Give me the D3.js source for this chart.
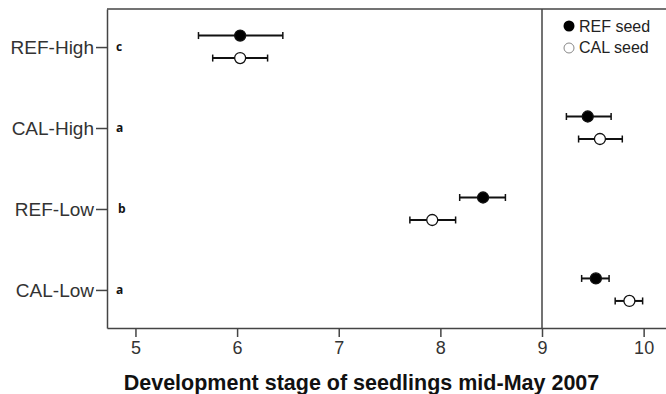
<!DOCTYPE html>
<html><head><meta charset="utf-8">
<script src="https://cdn.jsdelivr.net/npm/d3@7"></script>
<style>body{margin:0;background:#fff}svg{display:block}</style>
</head><body>
<script>
const categories = ["REF-High","CAL-High","REF-Low","CAL-Low"];
const letters = ["c","a","b","a"];
const refMean = [6.03, 9.45, 8.42, 9.53];
const refLo   = [5.62, 9.24, 8.19, 9.39];
const refHi   = [6.45, 9.68, 8.64, 9.66];
const calMean = [6.03, 9.57, 7.92, 9.86];
const calLo   = [5.76, 9.36, 7.70, 9.72];
const calHi   = [6.30, 9.79, 8.15, 9.99];
const xTicks = [5,6,7,8,9,10];
const refLine = 9;
const seriesNames = ["REF seed","CAL seed"];

const W=666,H=394;
const L=107,T=9,R=666,B=328;
const svg=d3.select("body").append("svg").attr("width",W).attr("height",H);
const x=d3.scaleLinear().domain([4.72,10.22]).range([L,R]);
const y=d3.scalePoint().domain(categories).range([T,B]).padding(0.47);
const axisCol="#444";

// frame top
svg.append("line").attr("x1",L).attr("x2",R).attr("y1",T).attr("y2",T).attr("stroke",axisCol).attr("stroke-width",1.5);

// x axis
const xa=svg.append("g").attr("transform",`translate(0,${B})`)
  .call(d3.axisBottom(x).tickValues(xTicks).tickSizeInner(9).tickSizeOuter(0).tickPadding(4).tickFormat(d3.format("d")));
xa.select(".domain").attr("stroke",axisCol).attr("stroke-width",1.5);
xa.selectAll(".tick line").attr("stroke",axisCol).attr("stroke-width",1.5);
xa.selectAll("text").attr("font-family","Liberation Sans, Arial, sans-serif").attr("font-size",18).attr("fill","#333");

// y axis
const ya=svg.append("g").attr("transform",`translate(${L},0)`)
  .call(d3.axisLeft(y).tickSizeInner(11).tickSizeOuter(0).tickPadding(2));
ya.select(".domain").attr("stroke",axisCol).attr("stroke-width",1.5);
ya.selectAll(".tick line").attr("stroke",axisCol).attr("stroke-width",1.5);
ya.selectAll("text").attr("font-family","Liberation Sans, Arial, sans-serif").attr("font-size",19).attr("fill","#333");

// reference line
svg.append("line").attr("x1",x(refLine)).attr("x2",x(refLine)).attr("y1",T).attr("y2",B)
  .attr("stroke",axisCol).attr("stroke-width",1.5);

// letters
svg.append("g").selectAll("text").data(categories).join("text")
  .attr("x",(d,i)=>L+ (letters[i]==="b"?11:9)).attr("y",d=>y(d)).attr("dy","0.35em")
  .attr("font-family","Open Sans, sans-serif").attr("font-weight","bold").attr("font-size",12)
  .attr("fill","#111").text((d,i)=>letters[i]);

function drawSeries(mean,lo,hi,off,filled){
  const g=svg.append("g");
  categories.forEach((c,i)=>{
    const yy=y(c)+off;
    g.append("line").attr("x1",x(lo[i])).attr("x2",x(hi[i])).attr("y1",yy).attr("y2",yy)
      .attr("stroke","#111").attr("stroke-width",2);
    [lo[i],hi[i]].forEach(v=>g.append("line").attr("x1",x(v)).attr("x2",x(v))
      .attr("y1",yy-3.5).attr("y2",yy+3.5).attr("stroke","#111").attr("stroke-width",1.5));
    g.append("circle").attr("cx",x(mean[i])).attr("cy",yy).attr("r",5.5)
      .attr("fill",filled?"#000":"#fff").attr("stroke","#111").attr("stroke-width",1.3);
  });
}
drawSeries(refMean,refLo,refHi,-11.5,true);
drawSeries(calMean,calLo,calHi,11,false);

// legend
const lg=svg.append("g");
lg.append("circle").attr("cx",569).attr("cy",26).attr("r",5.5).attr("fill","#000");
lg.append("circle").attr("cx",569).attr("cy",48).attr("r",5).attr("fill","#fff").attr("stroke","#888").attr("stroke-width",1);
seriesNames.forEach((s,i)=>lg.append("text").attr("x",579).attr("y",32+i*20+ (i?1:0))
  .attr("font-family","Liberation Sans, Arial, sans-serif").attr("font-size",16).attr("fill","#222").text(s));

// title
svg.append("text").attr("x",361.5).attr("y",390).attr("text-anchor","middle")
  .attr("font-family","Liberation Sans, Arial, sans-serif").attr("font-weight","bold").attr("font-size",21.5)
  .attr("fill","#111").text("Development stage of seedlings mid-May 2007");
</script>
</body></html>
